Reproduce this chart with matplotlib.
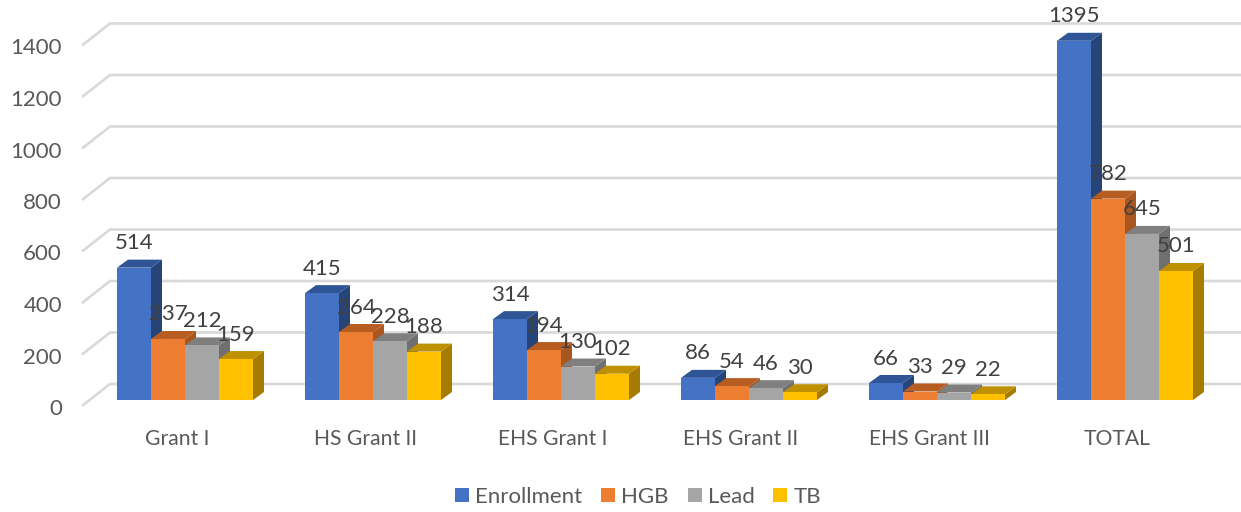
import matplotlib
matplotlib.use("Agg")
import matplotlib.pyplot as plt
from matplotlib.patches import Polygon

categories = ["Grant I", "HS Grant II", "EHS Grant I", "EHS Grant II", "EHS Grant III", "TOTAL"]
enrollment = [514, 415, 314, 86, 66, 1395]
hgb = [237, 264, 194, 54, 33, 782]
lead = [212, 228, 130, 46, 29, 645]
tb = [159, 188, 102, 30, 22, 501]
y_ticks = [0, 200, 400, 600, 800, 1000, 1200, 1400]

series = [
    ("Enrollment", enrollment, "#4472C4", "#2F5597", "#264478"),
    ("HGB", hgb, "#ED7D31", "#B85D22", "#A9561F"),
    ("Lead", lead, "#A5A5A5", "#7F7F7F", "#6F6F6F"),
    ("TB", tb, "#FFC000", "#BF9000", "#A67C00"),
]

W, H = 1241, 512
PX_X = 188.0      # pixels per category
PX_Y = 0.2575     # pixels per value unit
X0, Y0 = 185.0, 400.0  # pixel of first category centre / value 0
BAR = 34 / PX_X
DX, DY = 11 / PX_X, 8 / PX_Y   # bar depth
WX, WY = 28 / PX_X, 22 / PX_Y  # wall depth

plt.rcParams["font.family"] = ["Lato", "DejaVu Sans"]
fig = plt.figure(figsize=(W / 100, H / 100), dpi=100)
ax = fig.add_axes([0, 0, 1, 1])
ax.set_xlim(-X0 / PX_X, (W - X0) / PX_X)
ax.set_ylim((Y0 - H) / PX_Y, Y0 / PX_Y)
ax.axis("off")

# walls: x of the front-left corner in data units
wall_x = (82 - X0) / PX_X
front_off = -6 / PX_Y
for v in y_ticks:
    ax.plot([wall_x, wall_x + WX, ax.get_xlim()[1]],
            [v + front_off, v + front_off + WY, v + front_off + WY],
            color="#D9D9D9", lw=1.9, zorder=1, solid_capstyle="butt", solid_joinstyle="miter")
    ax.text((62 - X0) / PX_X, v - 9 / PX_Y, str(v), ha="right", va="center",
            fontsize=16, color="#595959")

for s, (name, values, front, top, side) in enumerate(series):
    for i, v in enumerate(values):
        left = i + (s - 2) * BAR
        right = left + BAR
        z = 3 + i * 10 + s
        ax.add_patch(Polygon([(right, 0), (right + DX, DY), (right + DX, v + DY), (right, v)],
                             closed=True, fc=side, ec="none", zorder=z))
        ax.add_patch(Polygon([(left, v), (left + DX, v + DY), (right + DX, v + DY), (right, v)],
                             closed=True, fc=top, ec="none", zorder=z))
    ax.bar([i + (s - 2) * BAR + BAR / 2 for i in range(len(values))], values, width=BAR,
           color=front, label=name, linewidth=0)

# lift the front faces above their own side and top faces
for c, container in enumerate(ax.containers):
    for i, patch in enumerate(container):
        patch.set_zorder(3 + i * 10 + c + 0.5)

for s, (name, values, *_ ) in enumerate(series):
    for i, v in enumerate(values):
        ax.text(i + (s - 2) * BAR + BAR / 2, v + 24.5 / PX_Y, str(v), ha="center", va="center",
                fontsize=16, color="#404040", zorder=100)

for i, c in enumerate(categories):
    ax.text(i - 8 / PX_X, -39 / PX_Y, c, ha="center", va="center", fontsize=15.2, color="#595959")

leg = ax.legend(loc="center", bbox_to_anchor=(638 / W, 1 - 497 / H), bbox_transform=fig.transFigure,
                ncol=4, frameon=False, fontsize=16, handlelength=0.63, handleheight=0.62,
                handletextpad=0.27, columnspacing=0.85, labelcolor="#595959", borderpad=0)
fig.savefig("out.png", dpi=100)
